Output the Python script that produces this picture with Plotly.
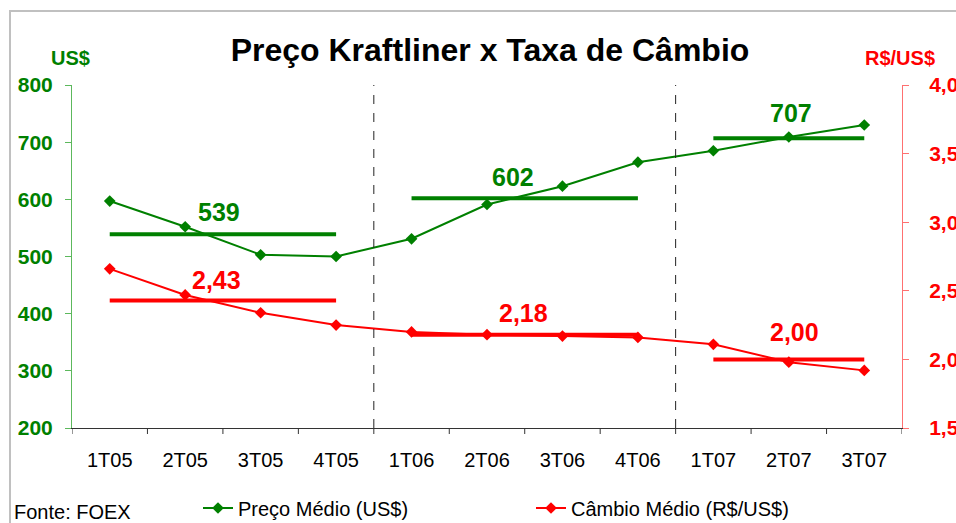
import plotly.graph_objects as go

categories = ["1T05", "2T05", "3T05", "4T05", "1T06", "2T06", "3T06", "4T06", "1T07", "2T07", "3T07"]
preco_medio = [597, 552, 503, 500, 531, 591, 623, 665, 685, 709, 730]
cambio_medio = [2.66, 2.47, 2.34, 2.25, 2.20, 2.18, 2.17, 2.16, 2.11, 1.98, 1.92]

# period averages: (first category index, last category index, value)
preco_periodos = [(0, 3, 539), (4, 7, 602), (8, 10, 707)]
cambio_periodos = [(0, 3, 2.43), (4, 7, 2.18), (8, 10, 2.00)]
period_breaks = [3.5, 7.5]

# label placement (layout only)
preco_label_x = [1.45, 5.35, 9.03]
preco_label_dy = [22, 21, 25]
cambio_label_x = [1.42, 5.48, 9.07]
cambio_label_dy = [20, 22, 27]

GREEN = "#008000"
RED = "#ff0000"
FONT = "Liberation Sans, Arial, sans-serif"

W, H = 956, 523
L, R, T, B = 72, 54, 85, 95
pw, ph = W - L - R, H - T - B

fig = go.Figure()

fig.add_trace(go.Scatter(
    x=list(range(len(categories))), y=preco_medio, name="Preço Médio (US$)",
    mode="lines+markers", line=dict(color=GREEN, width=2),
    marker=dict(symbol="diamond", size=9, color=GREEN), yaxis="y"))
fig.add_trace(go.Scatter(
    x=list(range(len(categories))), y=cambio_medio, name="Câmbio Médio (R$/US$)",
    mode="lines+markers", line=dict(color=RED, width=2),
    marker=dict(symbol="diamond", size=9, color=RED), yaxis="y2"))

for (a, b, v) in preco_periodos:
    fig.add_trace(go.Scatter(x=[a, b], y=[v, v], mode="lines", showlegend=False,
                             line=dict(color=GREEN, width=4), yaxis="y", hoverinfo="skip"))
for (a, b, v) in cambio_periodos:
    fig.add_trace(go.Scatter(x=[a, b], y=[v, v], mode="lines", showlegend=False,
                             line=dict(color=RED, width=4), yaxis="y2", hoverinfo="skip"))

annotations = []
for (p, lx, dy) in zip(preco_periodos, preco_label_x, preco_label_dy):
    annotations.append(dict(x=lx, y=p[2], xref="x", yref="y", text=f"<b>{p[2]}</b>",
                            showarrow=False, yshift=dy, font=dict(size=25, color=GREEN, family=FONT)))
for (p, lx, dy) in zip(cambio_periodos, cambio_label_x, cambio_label_dy):
    annotations.append(dict(x=lx, y=p[2], xref="x", yref="y2",
                            text="<b>" + f"{p[2]:.2f}".replace(".", ",") + "</b>",
                            showarrow=False, yshift=dy, font=dict(size=25, color=RED, family=FONT)))

annotations.append(dict(x=(70 - L) / pw, y=(428 - 58) / ph, xref="paper", yref="paper",
                        text="<b>US$</b>", showarrow=False, xanchor="center", yanchor="middle",
                        font=dict(size=20, color=GREEN, family=FONT)))
annotations.append(dict(x=(900 - L) / pw, y=(428 - 58) / ph, xref="paper", yref="paper",
                        text="<b>R$/US$</b>", showarrow=False, xanchor="center", yanchor="middle",
                        font=dict(size=20, color=RED, family=FONT)))
annotations.append(dict(x=(12 - L) / pw, y=(428 - 512) / ph, xref="paper", yref="paper",
                        text="Fonte: FOEX", showarrow=False, xanchor="left", yanchor="middle",
                        font=dict(size=20, color="#000000", family=FONT)))

shapes = []
for bx in period_breaks:
    shapes.append(dict(type="line", xref="x", yref="paper", x0=bx, x1=bx, y0=0, y1=1,
                       line=dict(color="#222222", width=1, dash="dash")))
shapes.append(dict(type="rect", xref="paper", yref="paper",
                   x0=(10 - L) / pw, x1=(1000 - L) / pw, y0=(428 - 560) / ph, y1=(428 - 11) / ph,
                   line=dict(color="#c0c0c0", width=2), fillcolor="rgba(0,0,0,0)", layer="below"))

fig.update_layout(
    width=W, height=H,
    margin=dict(l=L, r=R, t=T, b=B, autoexpand=False),
    paper_bgcolor="white", plot_bgcolor="white",
    separators=",.",
    font=dict(family=FONT, color="#000000"),
    title=dict(text="<b>Preço Kraftliner x Taxa de Câmbio</b>", x=490 / W, xanchor="center",
               y=1 - 50 / H, yanchor="middle", font=dict(size=32, color="#000000", family=FONT)),
    xaxis=dict(range=[-0.5, 10.5], tickmode="array", tickvals=list(range(len(categories))),
               ticktext=categories, showgrid=False, zeroline=False, automargin=False,
               showline=True, linecolor="#333333", linewidth=1,
               ticks="", tickfont=dict(size=20, color="#000000", family=FONT),
               ticklabelstandoff=14),
    yaxis=dict(range=[200, 800], dtick=100, showgrid=False, zeroline=False, automargin=False,
               showline=True, linecolor="#5cb85c", linewidth=1, ticks="outside",
               ticklen=6, tickcolor="#5cb85c",
               tickfont=dict(size=21, color=GREEN, family=FONT, weight="bold"), ticklabelstandoff=8),
    yaxis2=dict(range=[1.5, 4.0], dtick=0.5, tickformat=".2f", overlaying="y", side="right",
                showgrid=False, zeroline=False, showline=True, linecolor="#ff7070", linewidth=1,
                ticks="outside", ticklen=6, tickcolor="#ff7070", automargin=False,
                tickfont=dict(size=21, color=RED, family=FONT, weight="bold"), ticklabelstandoff=16),
    legend=dict(orientation="h", x=(198 - L) / pw, y=(428 - 508) / ph, xanchor="left",
                yanchor="middle", entrywidth=288, entrywidthmode="pixels",
                font=dict(size=20, color="#000000", family=FONT), bgcolor="rgba(0,0,0,0)"),
    annotations=annotations,
    shapes=shapes,
    showlegend=True,
)

# boundary tick marks on the x axis
for i in range(len(categories) + 1):
    fig.add_shape(type="line", xref="x", yref="paper", x0=i - 0.5, x1=i - 0.5,
                  y0=0, y1=-6 / ph, line=dict(color="#333333", width=1))

fig.write_html("out.html", config={"displayModeBar": False},
               post_script="document.body.style.margin='0px'; document.body.style.overflow='hidden';")
